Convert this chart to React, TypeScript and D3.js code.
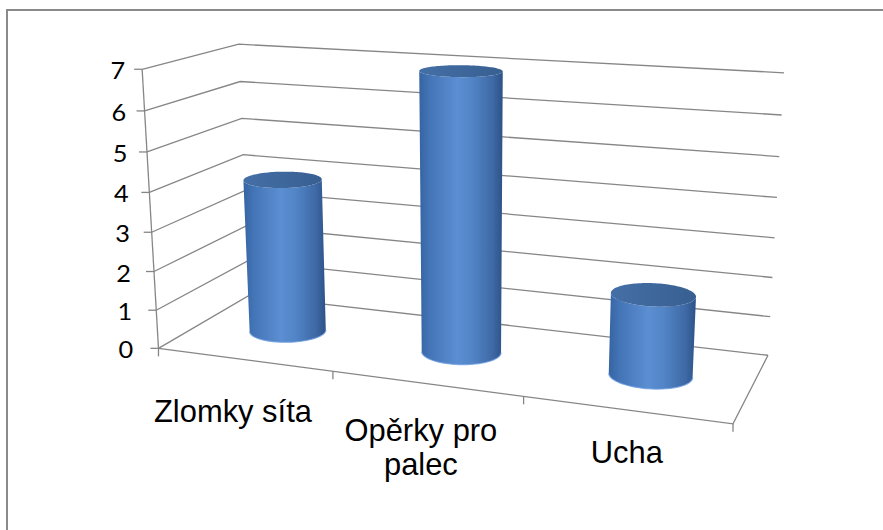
import React from "react";
import * as d3 from "d3";

const categories = ["Zlomky síta", "Opěrky pro\npalec", "Ucha"]
const values = [4, 7, 2]
const yTicks = [0, 1, 2, 3, 4, 5, 6, 7]
const yMax = 7

// screen positions of some corners of the plot box, used to fit the perspective
// [category units, value, depth (0 front, 1 back), screen x, screen y]
const anchors: number[][] = [
    [0, 7, 0, 142.7, 69.3],
    [0, 4, 0, 149, 192.3],
    [0, 0, 0, 158.3, 348.3],
    [0, 7, 1, 238, 44],
    [0, 4, 1, 244, 155],
    [3, 7, 1, 784, 72.7],
    [3, 4, 1, 777, 197.7],
    [3, 0, 1, 768, 355],
    [3, 0, 0, 733, 424],
]

const W = 883
const H = 530
const gridColor = "#868686"
const barRadius = 0.207 // in category units
const barDepthRadius = 0.195 // in depth units

const x = d3.scaleBand<string>().domain(categories).range([0, categories.length]).padding(0)
const y = d3.scaleLinear().domain([0, yMax]).range([0, 1])

// least squares fit of a 3x4 projective camera (DLT)
const fitCamera = (pts: number[][]) => {
    const rows: number[][] = []
    const rhs: number[] = []
    pts.forEach(([c, v, d, sx, sy]) => {
        const X = [c, y(v), d, 1]
        const px = sx / 100, py = sy / 100
        rows.push([...X, 0, 0, 0, 0, -px * X[0], -px * X[1], -px * X[2]])
        rhs.push(px)
        rows.push([0, 0, 0, 0, ...X, -py * X[0], -py * X[1], -py * X[2]])
        rhs.push(py)
    })
    const n = 11
    const M = d3.range(n).map(i => d3.range(n + 1).map(j =>
        j < n ? d3.sum(rows, r => r[i] * r[j]) : d3.sum(rows, (r, k) => r[i] * rhs[k])))
    for (let i = 0; i < n; i++) {
        let p = i
        for (let r = i + 1; r < n; r++) if (Math.abs(M[r][i]) > Math.abs(M[p][i])) p = r
        const tmp = M[i]; M[i] = M[p]; M[p] = tmp
        for (let r = 0; r < n; r++) {
            if (r === i) continue
            const f = M[r][i] / M[i][i]
            for (let c = i; c <= n; c++) M[r][c] -= f * M[i][c]
        }
    }
    return M.map((r, i) => r[n] / r[i])
}

const m = fitCamera(anchors)
const project = (c: number, h: number, d: number): [number, number] => {
    const den = m[8] * c + m[9] * h + m[10] * d + 1
    return [
        100 * (m[0] * c + m[1] * h + m[2] * d + m[3]) / den,
        100 * (m[4] * c + m[5] * h + m[6] * d + m[7]) / den,
    ]
}

const line = d3.line<[number, number]>()
const closed = d3.line<[number, number]>().curve(d3.curveLinearClosed)

const N = 120
const ring = (cx: number, h: number, cd: number) => d3.range(N).map(k => {
    const t = 2 * Math.PI * k / N
    return project(cx + barRadius * Math.cos(t), h, cd + barDepthRadius * Math.sin(t))
})
// arc of the ring between its left and right extremes that faces the viewer
const frontArc = (pts: [number, number][]) => {
    const iL = d3.minIndex(pts, p => p[0])
    const iR = d3.maxIndex(pts, p => p[0])
    const walk = (step: number) => {
        const out: [number, number][] = []
        for (let k = iL; ; k = (k + step + N) % N) {
            out.push(pts[k])
            if (k === iR) break
        }
        return out
    }
    const a = walk(1), b = walk(-1)
    return (d3.max(a, p => p[1]) as number) > (d3.max(b, p => p[1]) as number) ? a : b
}

const labelFont = "'Liberation Sans', Arial, sans-serif"
const tickFont = "Lato, 'Open Sans', sans-serif"

export default function App() {
    const c0 = 0, c1 = categories.length
    const bars = categories.map((cat, i) => {
        const cx = (x(cat) as number) + x.bandwidth() / 2
        const bottom = ring(cx, 0, 0.5)
        const top = ring(cx, y(values[i]), 0.5)
        const bf = frontArc(bottom)
        const tf = frontArc(top)
        const body = line([...bf, ...tf.slice().reverse()]) + "Z"
        return { cat, body, top: closed(top) as string, rim: line(bf) as string }
    })

    return (
        <svg width={W} height={H} style={{ position: "absolute", left: 0, top: 0, background: "#fff" }}>
            <defs>
                <linearGradient id="cyl" x1="0" x2="1" y1="0" y2="0">
                    <stop offset="0" stopColor="#3664a2" />
                    <stop offset="0.12" stopColor="#4374b6" />
                    <stop offset="0.45" stopColor="#5b8ed2" />
                    <stop offset="0.62" stopColor="#5386c8" />
                    <stop offset="0.88" stopColor="#3e69a5" />
                    <stop offset="1" stopColor="#2d5287" />
                </linearGradient>
                <linearGradient id="cylTop" x1="0" x2="1" y1="0" y2="0">
                    <stop offset="0" stopColor="#446fa6" />
                    <stop offset="1" stopColor="#385f91" />
                </linearGradient>
            </defs>
            <rect x={7} y={10} width={W + 20} height={H + 20} fill="none" stroke="#8a8a8a" strokeWidth={2} />

            {/* gridlines on side and back walls */}
            {yTicks.map(t => (
                <path key={"g" + t} fill="none" stroke={gridColor} strokeWidth={1.3}
                    d={line([project(c0, y(t), 0), project(c0, y(t), 1), project(c1, y(t), 1)]) as string} />
            ))}
            {/* floor front and right edges */}
            <path fill="none" stroke={gridColor} strokeWidth={1.3}
                d={line([project(c0, 0, 0), project(c1, 0, 0), project(c1, 0, 1)]) as string} />
            {/* value axis */}
            <path fill="none" stroke={gridColor} strokeWidth={1.3}
                d={line([project(c0, 0, 0), project(c0, 1, 0)]) as string} />
            {yTicks.map(t => {
                const p = project(c0, y(t), 0)
                return (
                    <g key={"t" + t}>
                        <line x1={p[0] - 8} x2={p[0]} y1={p[1]} y2={p[1]} stroke={gridColor} strokeWidth={1.3} />
                        <text transform={`translate(${p[0] * 0.5 + 54},${p[1] + 1}) scale(1.1,1)`} textAnchor="end"
                            dominantBaseline="central" fontFamily={tickFont} fontSize={23} fill="#000">{t}</text>
                    </g>
                )
            })}
            {/* category ticks */}
            {d3.range(c0, c1 + 1).map(c => {
                const p = project(c, 0, 0)
                return <line key={"c" + c} x1={p[0]} x2={p[0]} y1={p[1]} y2={p[1] + 8} stroke={gridColor} strokeWidth={1.3} />
            })}

            {bars.map(b => (
                <g key={b.cat}>
                    <path d={b.body} fill="url(#cyl)" />
                    <path d={b.rim} fill="none" stroke="#6d9de0" strokeWidth={1.2} opacity={0.8} />
                    <path d={b.top} fill="url(#cylTop)" />
                </g>
            ))}

            {categories.map(cat => {
                const cx = (x(cat) as number) + x.bandwidth() / 2
                const p = project(cx, 0, 0)
                // labels run along a line a little flatter than the floor edge
                const lx = p[0] * 1.031 - 18.4
                const ly = p[1] * 0.833 + 122
                return (
                    <text key={"l" + cat} transform={`translate(${lx},${ly}) scale(1.03,1.04)`}
                        textAnchor="middle" fontFamily={labelFont} fontSize={30} fill="#000">
                        {cat.split("\n").map((s, i) => <tspan key={i} x={0} dy={i === 0 ? 0 : 32}>{s}</tspan>)}
                    </text>
                )
            })}
        </svg>
    )
}
